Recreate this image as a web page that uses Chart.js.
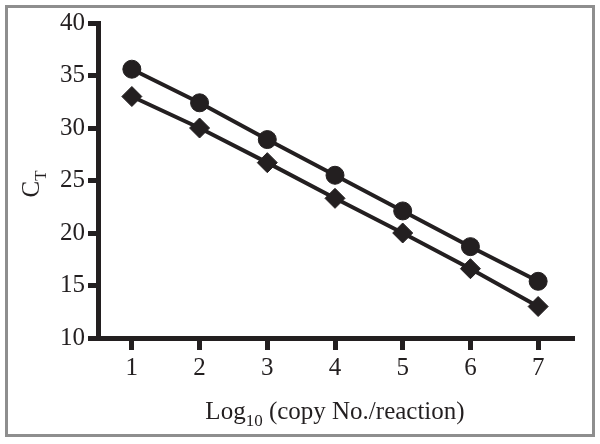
<!DOCTYPE html>
<html>
<head>
<meta charset="utf-8">
<script src="https://cdn.jsdelivr.net/npm/chart.js@4"></script>
<style>
  html, body { margin: 0; padding: 0; background: #fff; }
  #wrap { position: relative; width: 600px; height: 444px; }
  #frame { position: absolute; left: 5px; top: 5px; width: 584px; height: 426px; border: 3px solid #8e8e8e; pointer-events: none; }
</style>
</head>
<body>
<div id="wrap">
  <canvas id="myChart" width="600" height="444"></canvas>
  <div id="frame"></div>
</div>
<script>
// Datos
var copias = [1, 2, 3, 4, 5, 6, 7];
var ctCirculos = [35.6, 32.4, 28.9, 25.5, 22.1, 18.7, 15.4];
var ctRombos = [33.0, 30.0, 26.7, 23.3, 20.0, 16.6, 13.0];
var yTicks = [10, 15, 20, 25, 30, 35, 40];

var negro = '#231f20';
var fuente = 'Liberation Serif';

// titulos con subindice, dibujados a mano
var titulos = {
  id: 'titulos',
  afterDraw: (chart) => {
    var c = chart.ctx;
    var area = chart.chartArea;
    var big = '25px "' + fuente + '"';
    var small = '17px "' + fuente + '"';
    c.save();
    c.fillStyle = negro;
    c.textBaseline = 'alphabetic';

    // eje x
    var partes = [['Log', big, 0], ['10', small, 7], [' (copy No./reaction)', big, 0]];
    var total = 0;
    partes.forEach((p) => { c.font = p[1]; total += c.measureText(p[0]).width; });
    var x = (area.left + area.right) / 2 - total / 2;
    partes.forEach((p) => {
      c.font = p[1];
      c.fillText(p[0], x, 419 + p[2]);
      x += c.measureText(p[0]).width;
    });

    // eje y
    c.translate(39, 184);
    c.rotate(-Math.PI / 2);
    c.font = big;
    var wC = c.measureText('C').width;
    c.font = small;
    var wT = c.measureText('T').width;
    var inicio = -(wC + wT) / 2;
    c.font = big;
    c.fillText('C', inicio, 0);
    c.font = small;
    c.fillText('T', inicio + wC, 7);
    c.restore();
  }
};

var ctx = document.getElementById('myChart').getContext('2d');
var chart = new Chart(ctx, {
  type: 'line',
  data: {
    datasets: [{
      label: 'circulos',
      data: copias.map((v, i) => ({x: v, y: ctCirculos[i]})),
      borderColor: negro,
      backgroundColor: negro,
      borderWidth: 4,
      pointStyle: 'circle',
      pointRadius: 9,
      pointBorderWidth: 1,
      tension: 0
    }, {
      label: 'rombos',
      data: copias.map((v, i) => ({x: v, y: ctRombos[i]})),
      borderColor: negro,
      backgroundColor: negro,
      borderWidth: 4,
      pointStyle: 'rectRot',
      pointRadius: 10,
      pointBorderWidth: 1,
      tension: 0
    }]
  },
  options: {
    responsive: false,
    animation: false,
    layout: { padding: { left: 0, right: 28, top: 23, bottom: 0 } },
    plugins: { legend: { display: false }, tooltip: { enabled: false } },
    scales: {
      x: {
        type: 'linear',
        min: 0.5,
        max: 7.5,
        afterBuildTicks: (s) => { s.ticks = copias.map((v) => ({value: v})); },
        afterFit: (s) => { s.height = 106; },
        border: { display: true, color: negro, width: 5 },
        grid: { drawOnChartArea: false, drawTicks: true, tickLength: 12, color: negro, lineWidth: 5, tickWidth: 5, tickColor: negro },
        ticks: { color: negro, font: { family: fuente, size: 25 }, padding: 3 }
      },
      y: {
        min: 10,
        max: 40,
        afterBuildTicks: (s) => { s.ticks = yTicks.map((v) => ({value: v})); },
        afterFit: (s) => { s.width = 98; },
        border: { display: true, color: negro, width: 5 },
        grid: { drawOnChartArea: false, drawTicks: true, tickLength: 10, color: negro, lineWidth: 5, tickWidth: 5, tickColor: negro },
        ticks: { color: negro, font: { family: fuente, size: 25 }, padding: 3 }
      }
    }
  },
  plugins: [titulos]
});
</script>
</body>
</html>
